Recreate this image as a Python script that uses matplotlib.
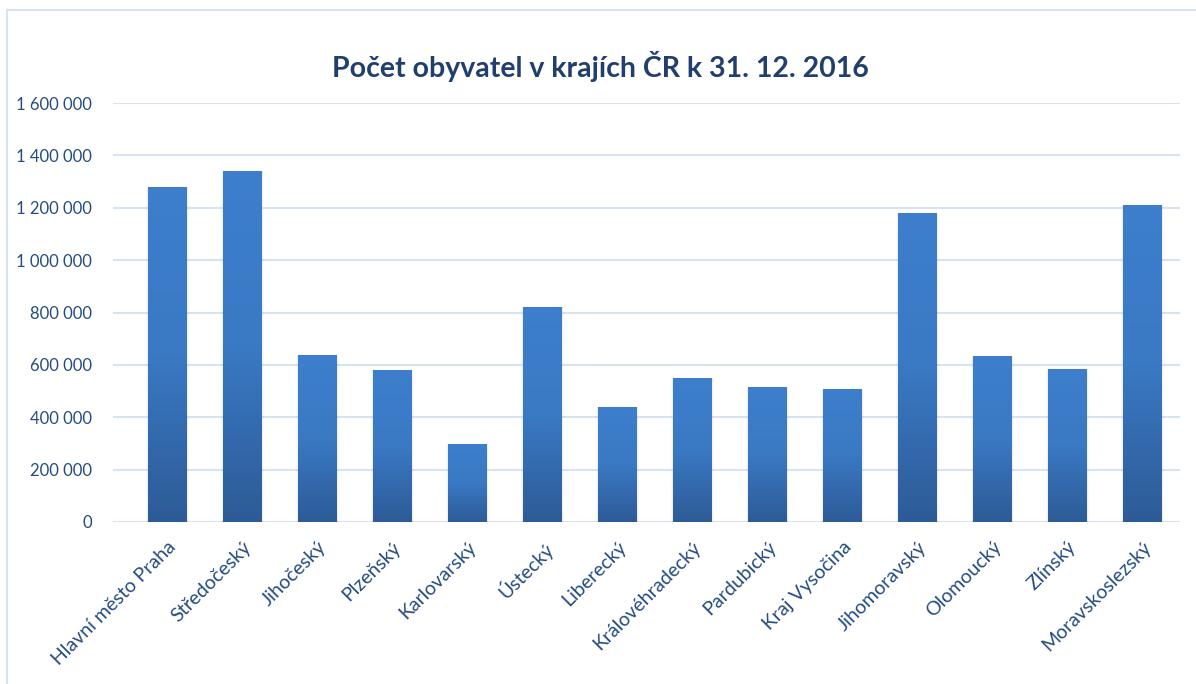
import matplotlib
matplotlib.use("Agg")
import matplotlib.pyplot as plt
import numpy as np
from matplotlib.colors import LinearSegmentedColormap
from matplotlib.patches import Rectangle
from matplotlib.ticker import FuncFormatter

regions = ["Hlavní město Praha", "Středočeský", "Jihočeský", "Plzeňský",
           "Karlovarský", "Ústecký", "Liberecký", "Královéhradecký",
           "Pardubický", "Kraj Vysočina", "Jihomoravský", "Olomoucký",
           "Zlínský", "Moravskoslezský"]
population = [1280508, 1338982, 638782, 578707, 296749, 821377, 440636,
              550804, 517087, 509274, 1178812, 633925, 584676, 1209879]
y_ticks = [0, 200000, 400000, 600000, 800000, 1000000, 1200000, 1400000, 1600000]
title = "Počet obyvatel v krajích ČR k 31. 12. 2016"

plt.rcParams['font.family'] = ['Lato', 'DejaVu Sans']
text_color = "#244c80"
grid_color = "#d6e3f3"

W, H = 1196, 684
fig = plt.figure(figsize=(W / 100, H / 100), dpi=100)
fig.patch.set_facecolor("white")

# border of the chart area (top and left visible)
fig.add_artist(Rectangle((7 / W, -0.1), 1.2, 1 - 10 / H + 0.1, transform=fig.transFigure,
                         fill=False, edgecolor="#d5e2f2", linewidth=1.5))

ax = fig.add_axes([113 / W, 1 - 522 / H, (1180 - 113) / W, (522 - 103) / H])
x = np.arange(len(regions))
bars = ax.bar(x, population, width=0.51, color="#3570b5", zorder=3)

cmap = LinearSegmentedColormap.from_list("g", ["#2d5b97", "#3a79c4", "#3d7fcc"])
grad = np.linspace(0, 1, 256).reshape(-1, 1)
for b in bars:
    bx, by = b.get_x(), b.get_y()
    bw, bh = b.get_width(), b.get_height()
    # soft shadow
    for i, a in enumerate([0.06, 0.04, 0.02]):
        ax.add_patch(Rectangle((bx - 0.01 * (i + 1), by - 6000 * (i + 1)), bw + 0.02 * (i + 1),
                               bh + 6000 * (i + 1), facecolor="black", alpha=a,
                               edgecolor="none", zorder=2))
    im = ax.imshow(grad, extent=(bx, bx + bw, by, by + bh), origin="lower",
                   cmap=cmap, aspect="auto", zorder=4)
    im.set_clip_path(b)

ax.set_xlim(-0.5 - 17 / 75, len(regions) - 0.5)
ax.set_ylim(0, 1600000)
ax.set_yticks(y_ticks)
ax.yaxis.set_major_formatter(FuncFormatter(lambda v, p: f"{int(v):,}".replace(",", " ")))
ax.grid(axis="y", color=grid_color, linewidth=1.5, zorder=0)
ax.set_axisbelow(True)
for s in ax.spines.values():
    s.set_visible(False)
ax.tick_params(axis="y", length=0, colors=text_color, labelsize=12, pad=15)
ax.set_xticks(x)
ax.set_xticklabels(regions, rotation=45, ha="right", va="top", rotation_mode="anchor")
ax.tick_params(axis="x", length=0, colors=text_color, labelsize=14, pad=12)

fig.text(600 / W, 1 - 67 / H, title, ha="center", va="center", fontsize=20.5,
         fontweight="bold", color="#213f6e")

fig.savefig("out.png", dpi=100, facecolor="white")
